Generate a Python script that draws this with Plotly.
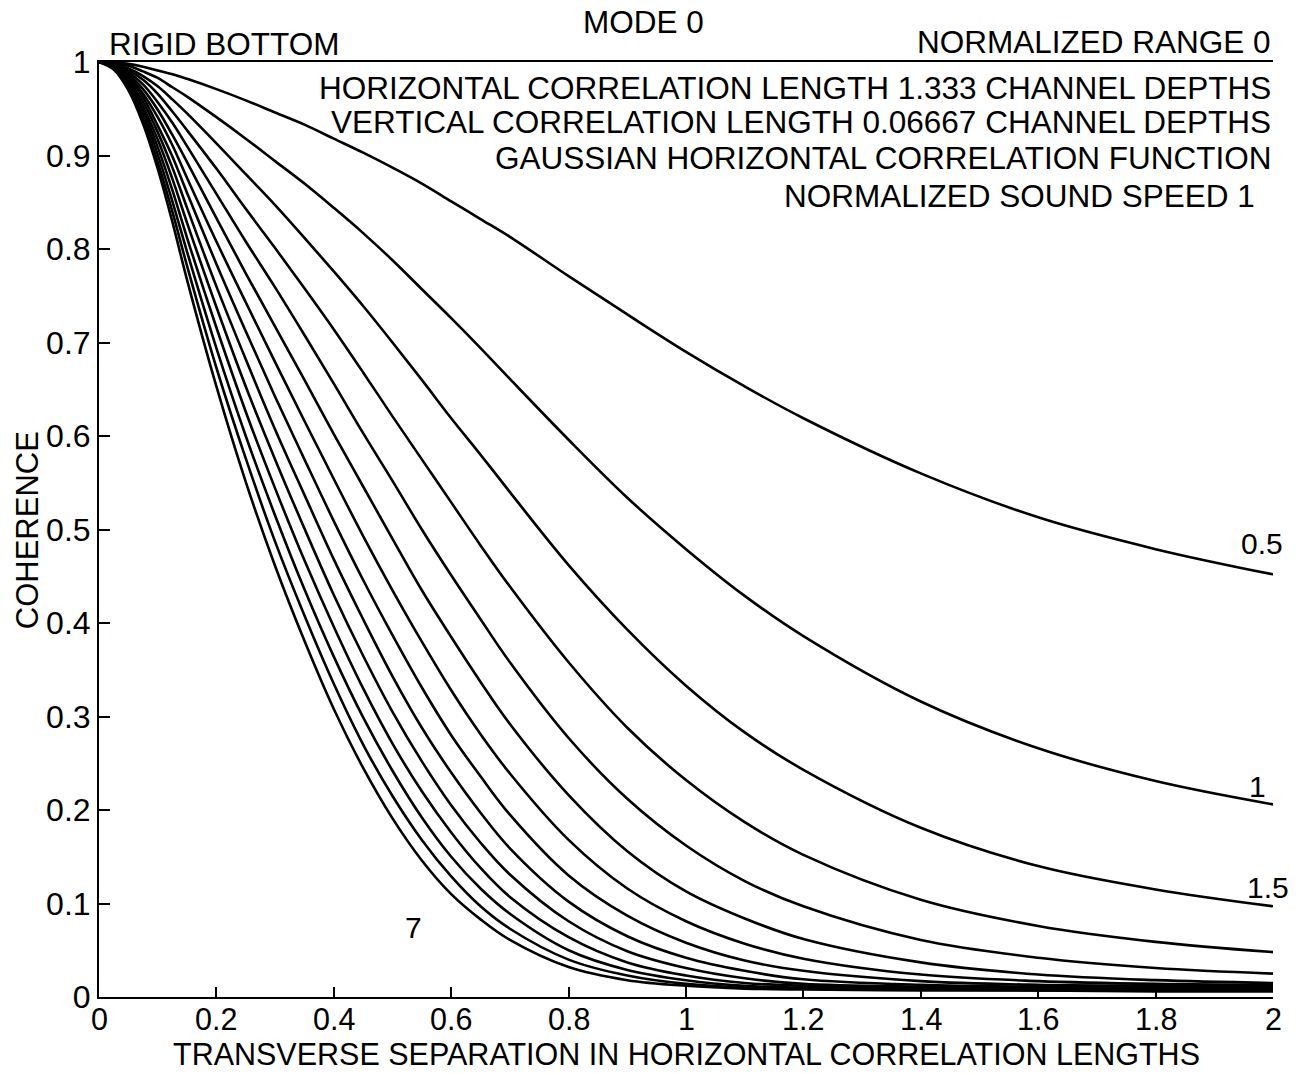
import plotly.graph_objects as go

# Transverse separation (horizontal correlation lengths)
separation = [0, 0.025, 0.05, 0.075, 0.1, 0.125, 0.15, 0.2, 0.25, 0.3, 0.35,
              0.4, 0.45, 0.5, 0.55, 0.6, 0.65, 0.7, 0.8, 0.9, 1.0, 1.1, 1.2,
              1.4, 1.6, 1.8, 2.0]

# Coherence for each frequency parameter
coh_0_5 = [1.000, 1.000, 0.998, 0.995, 0.991, 0.987, 0.982, 0.971, 0.959, 0.946,
           0.933, 0.918, 0.903, 0.887, 0.870, 0.851, 0.832, 0.813, 0.771, 0.730,
           0.690, 0.653, 0.619, 0.560, 0.513, 0.479, 0.452]
coh_1_0 = [1.000, 0.999, 0.996, 0.990, 0.983, 0.973, 0.963, 0.941, 0.918, 0.894,
           0.870, 0.844, 0.817, 0.788, 0.757, 0.726, 0.694, 0.661, 0.596, 0.534,
           0.479, 0.429, 0.386, 0.316, 0.266, 0.231, 0.206]
coh_1_5 = [1.000, 0.998, 0.993, 0.985, 0.974, 0.960, 0.945, 0.913, 0.880, 0.847,
           0.812, 0.776, 0.739, 0.700, 0.660, 0.619, 0.580, 0.540, 0.462, 0.393,
           0.333, 0.283, 0.243, 0.181, 0.140, 0.115, 0.097]
coh_2_0 = [1.000, 0.998, 0.991, 0.981, 0.966, 0.947, 0.927, 0.886, 0.843, 0.801,
           0.758, 0.714, 0.668, 0.621, 0.575, 0.529, 0.483, 0.439, 0.358, 0.288,
           0.232, 0.187, 0.152, 0.104, 0.076, 0.059, 0.048]
coh_2_5 = [1.000, 0.997, 0.989, 0.976, 0.957, 0.935, 0.910, 0.859, 0.808, 0.759,
           0.708, 0.656, 0.603, 0.552, 0.500, 0.451, 0.404, 0.358, 0.277, 0.212,
           0.162, 0.124, 0.097, 0.061, 0.042, 0.031, 0.025]
coh_3_0 = [1.000, 0.997, 0.987, 0.971, 0.949, 0.922, 0.893, 0.833, 0.774, 0.717,
           0.660, 0.602, 0.546, 0.490, 0.435, 0.385, 0.337, 0.292, 0.216, 0.156,
           0.113, 0.084, 0.062, 0.037, 0.024, 0.018, 0.015]
coh_3_5 = [1.000, 0.996, 0.985, 0.966, 0.941, 0.911, 0.876, 0.808, 0.743, 0.679,
           0.616, 0.554, 0.493, 0.435, 0.380, 0.328, 0.281, 0.239, 0.168, 0.116,
           0.081, 0.057, 0.041, 0.024, 0.017, 0.014, 0.013]
coh_4_0 = [1.000, 0.996, 0.983, 0.962, 0.932, 0.899, 0.860, 0.784, 0.712, 0.642,
           0.575, 0.509, 0.446, 0.387, 0.331, 0.280, 0.236, 0.195, 0.130, 0.087,
           0.058, 0.039, 0.028, 0.017, 0.013, 0.012, 0.011]
coh_4_5 = [1.000, 0.995, 0.980, 0.957, 0.925, 0.887, 0.844, 0.760, 0.682, 0.607,
           0.537, 0.468, 0.404, 0.343, 0.288, 0.240, 0.197, 0.159, 0.102, 0.065,
           0.042, 0.028, 0.019, 0.013, 0.011, 0.010, 0.010]
coh_5_0 = [1.000, 0.995, 0.978, 0.952, 0.917, 0.875, 0.828, 0.738, 0.653, 0.575,
           0.501, 0.430, 0.365, 0.305, 0.252, 0.205, 0.165, 0.131, 0.081, 0.049,
           0.031, 0.020, 0.014, 0.011, 0.010, 0.009, 0.009]
coh_5_5 = [1.000, 0.994, 0.976, 0.948, 0.909, 0.863, 0.812, 0.716, 0.626, 0.544,
           0.467, 0.396, 0.330, 0.271, 0.220, 0.176, 0.138, 0.107, 0.064, 0.037,
           0.023, 0.015, 0.012, 0.010, 0.009, 0.008, 0.008]
coh_6_0 = [1.000, 0.993, 0.974, 0.943, 0.901, 0.851, 0.797, 0.694, 0.600, 0.515,
           0.436, 0.364, 0.299, 0.242, 0.192, 0.150, 0.116, 0.089, 0.050, 0.029,
           0.018, 0.012, 0.010, 0.009, 0.008, 0.008, 0.007]
coh_6_5 = [1.000, 0.993, 0.972, 0.938, 0.893, 0.840, 0.782, 0.673, 0.576, 0.487,
           0.408, 0.335, 0.270, 0.215, 0.168, 0.129, 0.097, 0.073, 0.040, 0.023,
           0.014, 0.010, 0.009, 0.008, 0.007, 0.007, 0.007]
coh_7_0 = [1.000, 0.992, 0.970, 0.934, 0.886, 0.829, 0.767, 0.653, 0.551, 0.461,
           0.381, 0.308, 0.245, 0.191, 0.146, 0.110, 0.083, 0.061, 0.032, 0.018,
           0.012, 0.009, 0.008, 0.007, 0.007, 0.006, 0.006]

curves = [coh_0_5, coh_1_0, coh_1_5, coh_2_0, coh_2_5, coh_3_0, coh_3_5,
          coh_4_0, coh_4_5, coh_5_0, coh_5_5, coh_6_0, coh_6_5, coh_7_0]
params = ["0.5", "1", "1.5", "2", "2.5", "3", "3.5", "4", "4.5", "5",
          "5.5", "6", "6.5", "7"]

x_ticks = [0, 0.2, 0.4, 0.6, 0.8, 1.0, 1.2, 1.4, 1.6, 1.8, 2.0]
x_tick_text = ["0", "0.2", "0.4", "0.6", "0.8", "1", "1.2", "1.4", "1.6", "1.8", "2"]
y_ticks = [0, 0.1, 0.2, 0.3, 0.4, 0.5, 0.6, 0.7, 0.8, 0.9, 1.0]
y_tick_text = ["0", "0.1", "0.2", "0.3", "0.4", "0.5", "0.6", "0.7", "0.8", "0.9", "1"]

FONT = "Liberation Sans, Arial, Helvetica, sans-serif"
TXT = 31.5
TICK = 30.5

fig = go.Figure()
for name, ys in zip(params, curves):
    fig.add_trace(go.Scatter(
        x=separation, y=ys, mode="lines", name=name,
        line=dict(color="black", width=2.6, shape="spline", smoothing=1.0),
        showlegend=False,
    ))

fig.update_layout(
    width=1315, height=1074,
    margin=dict(l=99, r=42, t=62, b=77),
    paper_bgcolor="white", plot_bgcolor="white",
    font=dict(family=FONT, size=TXT, color="black"),
)

# x tick labels are placed as annotations below the axis
fig.update_xaxes(
    range=[0, 2], tickvals=x_ticks, showticklabels=False,
    showgrid=False, zeroline=False,
    showline=True, linecolor="black", linewidth=2, mirror=True,
    ticks="inside", ticklen=10, tickwidth=2, tickcolor="black",
)
fig.update_yaxes(
    range=[0, 1], tickvals=y_ticks, ticktext=y_tick_text,
    showgrid=False, zeroline=False,
    showline=True, linecolor="black", linewidth=2,
    ticks="inside", ticklen=11, tickwidth=2, tickcolor="black",
    tickfont=dict(family=FONT, size=32, color="black"),
)

PW, PH = 1174.0, 934.5


def px_to_paper(px, py):
    return (px - 99) / PW, (996.5 - py) / PH


_, tick_y = px_to_paper(0, 1018)
for tv, tt in zip(x_ticks, x_tick_text):
    fig.add_annotation(text=tt, x=tv, xref="x", y=tick_y, yref="paper",
                       xanchor="center", yanchor="middle", showarrow=False,
                       font=dict(family=FONT, size=TICK, color="black"))

header = [
    ("MODE 0", 643, 22, "center"),
    ("RIGID BOTTOM", 107, 44, "left"),
    ("NORMALIZED RANGE 0", 1273, 42, "right"),
    ("HORIZONTAL CORRELATION LENGTH 1.333 CHANNEL DEPTHS", 1273, 88, "right"),
    ("VERTICAL CORRELATION LENGTH 0.06667 CHANNEL DEPTHS", 1273, 122, "right"),
    ("GAUSSIAN HORIZONTAL CORRELATION FUNCTION", 1273, 158, "right"),
    ("NORMALIZED SOUND SPEED 1", 1257, 196, "right"),
]
for text, px, py, anchor in header:
    xp, yp = px_to_paper(px, py)
    fig.add_annotation(text=text, xref="paper", yref="paper", x=xp, y=yp,
                       xanchor=anchor, yanchor="middle", showarrow=False,
                       font=dict(family=FONT, size=TXT, color="black"))

# Axis titles
xp, yp = px_to_paper(27, 530)
fig.add_annotation(text="COHERENCE", xref="paper", yref="paper", x=xp, y=yp,
                   textangle=-90, xanchor="center", yanchor="middle",
                   showarrow=False, font=dict(family=FONT, size=31, color="black"))
xp, yp = px_to_paper(686, 1053)
fig.add_annotation(text="TRANSVERSE SEPARATION IN HORIZONTAL CORRELATION LENGTHS",
                   xref="paper", yref="paper", x=xp, y=yp,
                   xanchor="center", yanchor="middle", showarrow=False,
                   font=dict(family=FONT, size=30.5, color="black"))

# Curve labels
curve_labels = [("0.5", 1.981, 0.485), ("1", 1.973, 0.225),
                ("1.5", 1.991, 0.117), ("7", 0.535, 0.074)]
for text, lx, ly in curve_labels:
    fig.add_annotation(text=text, x=lx, y=ly, xref="x", yref="y",
                       xanchor="center", yanchor="middle", showarrow=False,
                       font=dict(family=FONT, size=30, color="black"))

fig.write_html("out.html")
